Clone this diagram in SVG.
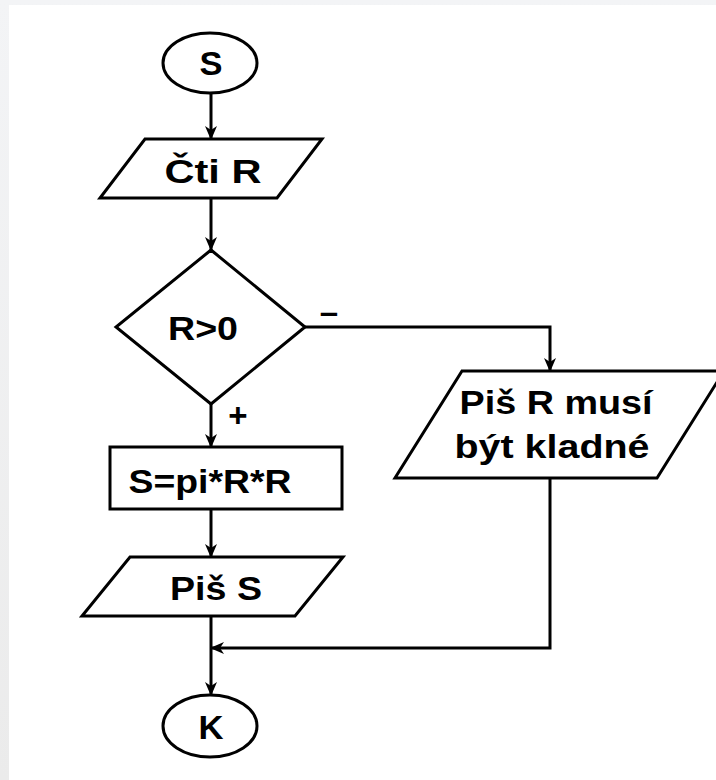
<svg xmlns="http://www.w3.org/2000/svg" width="716" height="780" viewBox="0 0 716 780">
  <defs>
    <linearGradient id="frame" x1="0" y1="0" x2="0" y2="1">
      <stop offset="0" stop-color="#f3f4f6"/>
      <stop offset="1" stop-color="#ebebeb"/>
    </linearGradient>
    <marker id="arrow" viewBox="0 0 14 12" refX="13" refY="6" markerWidth="14" markerHeight="12" markerUnits="userSpaceOnUse" orient="auto">
      <path d="M0,0 L14,6 L0,12 L4,6 Z" fill="#000"/>
    </marker>
  </defs>
  <style>
    .shape { fill: #fff; stroke: #000; stroke-width: 3; }
    .conn { fill: none; stroke: #000; stroke-width: 3; }
    .label { font-family: "Liberation Sans", Arial, sans-serif; font-weight: bold; font-size: 33px; fill: #000; text-anchor: middle; }
  </style>

  <!-- page background -->
  <rect x="0" y="0" width="716" height="780" fill="url(#frame)"/>
  <rect x="9" y="5" width="707" height="775" fill="#fff"/>

  <!-- connectors -->
  <g id="connectors">
    <path class="conn" d="M211,93 V139" marker-end="url(#arrow)"/>
    <path class="conn" d="M211,198 V250" marker-end="url(#arrow)"/>
    <path class="conn" d="M304,327 H550 V371" marker-end="url(#arrow)"/>
    <path class="conn" d="M211,404 V447" marker-end="url(#arrow)"/>
    <path class="conn" d="M211,509 V557" marker-end="url(#arrow)"/>
    <path class="conn" d="M550,478 V648 H211" marker-end="url(#arrow)"/>
    <path class="conn" d="M211,616 V695" marker-end="url(#arrow)"/>
    <text class="label" x="329" y="323">–</text>
    <text class="label" x="238" y="427">+</text>
  </g>

  <!-- start -->
  <g id="start">
    <ellipse class="shape" cx="210" cy="63" rx="47" ry="30"/>
    <text class="label" x="211" y="75" textLength="23" lengthAdjust="spacingAndGlyphs">S</text>
  </g>

  <!-- read R -->
  <g id="read-r">
    <polygon class="shape" points="145,139 322,139 277,198 100,198"/>
    <text class="label" x="213" y="183" textLength="97" lengthAdjust="spacingAndGlyphs">Čti R</text>
  </g>

  <!-- test R > 0 -->
  <g id="test-r">
    <polygon class="shape" points="211,250 305,327 211,404 116,327"/>
    <text class="label" x="203" y="340" textLength="70" lengthAdjust="spacingAndGlyphs">R&gt;0</text>
  </g>

  <!-- error message -->
  <g id="write-error">
    <polygon class="shape" points="462,371 724,371 657,478 395,478"/>
    <text class="label" x="556" y="414" textLength="193" lengthAdjust="spacingAndGlyphs">Piš R musí</text>
    <text class="label" x="552" y="458" textLength="195" lengthAdjust="spacingAndGlyphs">být kladné</text>
  </g>

  <!-- compute area -->
  <g id="compute">
    <rect class="shape" x="110" y="447" width="232" height="62"/>
    <text class="label" x="210" y="493" textLength="163" lengthAdjust="spacingAndGlyphs">S=pi*R*R</text>
  </g>

  <!-- write S -->
  <g id="write-s">
    <polygon class="shape" points="130,557 343,557 295,616 82,616"/>
    <text class="label" x="216" y="600" textLength="92" lengthAdjust="spacingAndGlyphs">Piš S</text>
  </g>

  <!-- end -->
  <g id="end">
    <ellipse class="shape" cx="210" cy="726" rx="47" ry="31"/>
    <text class="label" x="211" y="739" textLength="25" lengthAdjust="spacingAndGlyphs">K</text>
  </g>
</svg>
